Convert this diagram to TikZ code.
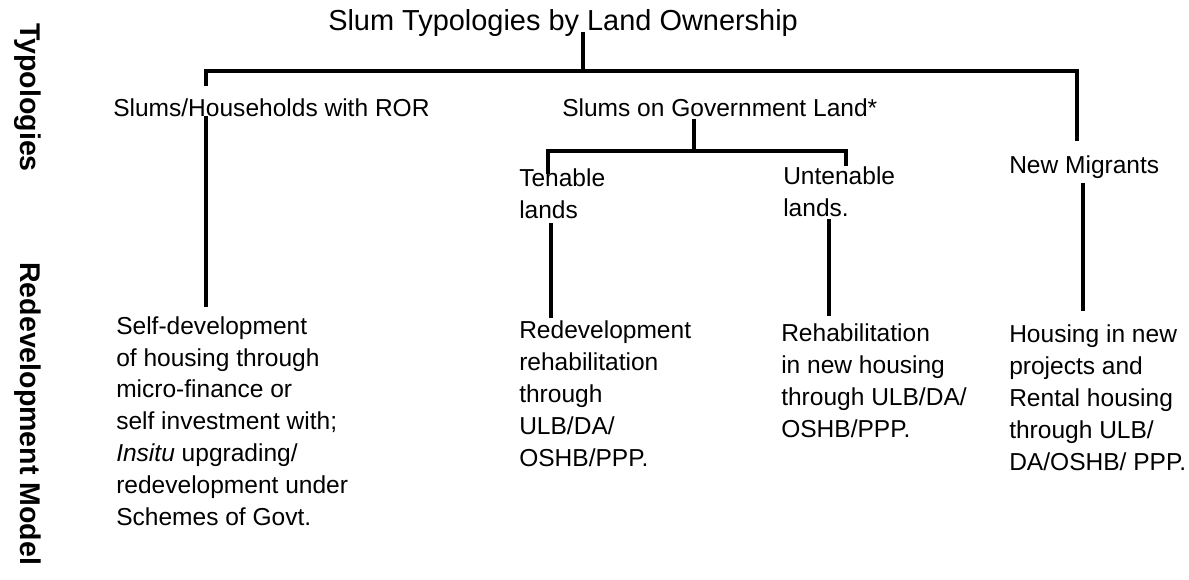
\documentclass[tikz,border=0pt]{standalone}
\usepackage{fontspec}
\setmainfont{Liberation Sans}
\begin{document}
\begin{tikzpicture}[
  x=0.75pt, y=-0.75pt,
  txt/.style={inner sep=0pt, anchor=base west, align=left,
    font=\fontsize{18.4pt}{23.85pt}\selectfont},
  heading/.style={inner sep=0pt, anchor=base west,
    font=\fontsize{21.7pt}{26pt}\selectfont},
  side/.style={inner sep=0pt, anchor=base west, rotate=-90,
    font=\fontsize{21.4pt}{25pt}\selectfont\bfseries},
  link/.style={line width=2.3pt}
]
  \useasboundingbox (0,0) rectangle (1189,579);

  % side captions
  \node[side] (typ) at (21,23) {Typologies};
  \node[side] (model) at (21,262) {Redevelopment Model};

  % typologies (multi-line nodes sit on their last baseline)
  \node[heading] (title) at (328,30) {Slum Typologies by Land Ownership};
  \node[txt] (ror) at (113,116) {Slums/Households with ROR};
  \node[txt] (govt) at (562,116) {Slums on Government Land*};
  \node[txt] (ten) at (519,218) {Tenable\\lands};
  \node[txt] (unt) at (783,216) {Untenable\\lands.};
  \node[txt] (mig) at (1009,173) {New Migrants};

  % redevelopment models
  \node[txt] (self) at (116,525) {Self-development\\of housing through\\micro-finance or\\self investment with;\\\textit{Insitu} upgrading/\\redevelopment under\\Schemes of Govt.};
  \node[txt] (redev) at (519,466) {Redevelopment\\rehabilitation\\through\\ULB/DA/\\OSHB/PPP.};
  \node[txt] (rehab) at (781,437) {Rehabilitation\\in new housing\\through ULB/DA/\\OSHB/PPP.};
  \node[txt] (house) at (1009,470) {Housing in new\\projects and\\Rental housing\\through ULB/\\DA/OSHB/ PPP.};

  % junctions
  \coordinate (top) at (583,71);
  \coordinate (jl) at (206,71);
  \coordinate (jr) at (1077,71);
  \coordinate (gs) at (694,151);
  \coordinate (tl) at (548,151);
  \coordinate (ur) at (846,151);
  \coordinate (tx) at (551,0);
  \coordinate (ux) at (829,0);
  \coordinate (nx) at (1083,0);

  \draw[link, shorten <=1.5pt] (title.base -| top) -- (top);
  \draw[link, shorten <=9.2pt, shorten >=10.3pt] (jl |- ror.north) -- (jl) -- (jr) -- (jr |- mig.north);
  \draw[link, shorten >=6.9pt] (jl |- ror.base) -- (jl |- self.north);
  \draw[link, shorten <=2.2pt] (gs |- govt.base) -- (gs);
  \draw[link, shorten <=-4.1pt] (tl |- ten.north) -- (tl) -- (ur) -- (ur |- unt.north);
  \draw[link, shorten <=3.7pt, shorten >=2pt] (tx |- ten.south) -- (tx |- redev.north);
  \draw[link, shorten <=2.2pt, shorten >=5.8pt] (ux |- unt.south) -- (ux |- rehab.north);
  \draw[link, line width=3pt, shorten <=3.4pt, shorten >=10pt] (nx |- mig.south) -- (nx |- house.north);
\end{tikzpicture}
\end{document}
